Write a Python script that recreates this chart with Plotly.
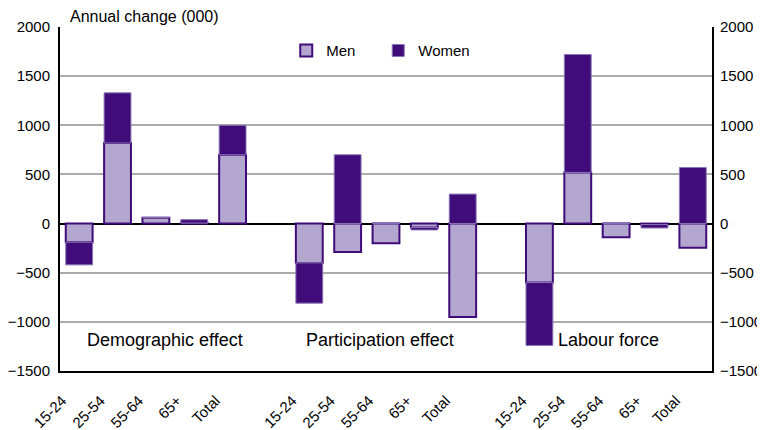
import plotly.graph_objects as go

groups = ["Demographic effect", "Participation effect", "Labour force"]
ages = ["15-24", "25-54", "55-64", "65+", "Total"]

men = [
    [-190, 820, 60, 5, 700],
    [-400, -290, -200, -40, -950],
    [-600, 520, -140, -10, -245],
]
women = [
    [-230, 510, 5, 35, 300],
    [-410, 700, 10, -25, 300],
    [-640, 1200, 10, -35, 570],
]

y_ticks = [-1500, -1000, -500, 0, 500, 1000, 1500, 2000]

MEN_FILL = "#B4A7CF"
DARK = "#3F0C79"
FONT = "Liberation Sans, Arial, sans-serif"

slot = len(ages) + 1
xs, tv, tt = [], [], []
for g in range(len(groups)):
    for i, a in enumerate(ages):
        xs.append(g * slot + i)
        tv.append(g * slot + i)
        tt.append(a)
xm = [v for row in men for v in row]
xw = [v for row in women for v in row]

fig = go.Figure()
fig.add_trace(go.Bar(x=xs, y=xm, name="Men", marker=dict(color=MEN_FILL, line=dict(color=DARK, width=2))))
fig.add_trace(go.Bar(x=xs, y=xw, name="Women", marker=dict(color=DARK, line=dict(color="#8B76B5", width=1))))
# empty trace so the right-hand axis is drawn
fig.add_trace(go.Scatter(x=[None], y=[None], yaxis="y2", showlegend=False, hoverinfo="skip"))

fig.update_layout(
    width=765, height=430,
    margin=dict(l=52, r=61, t=19, b=67),
    barmode="relative", bargap=0.3,
    plot_bgcolor="white", paper_bgcolor="white",
    font=dict(family=FONT, size=15, color="black"),
    showlegend=True,
    legend=dict(orientation="h", x=0.347, y=0.979, xanchor="left", yanchor="top",
                font=dict(size=15), entrywidth=47, entrywidthmode="pixels",
                bgcolor="rgba(0,0,0,0)", traceorder="normal"),
    xaxis=dict(range=[-0.5, len(groups) * slot - 1.5], tickvals=tv, ticktext=tt,
               tickangle=-45, showgrid=False, showline=True, linecolor="black",
               linewidth=2, ticks="", tickfont=dict(size=15), zeroline=False,
               automargin=False, ticklabelshift=-17, ticklabelstandoff=13),
    yaxis=dict(range=[-1500, 2000], tickvals=y_ticks, showgrid=True,
               gridcolor="#ABABAB", gridwidth=2, zeroline=True, zerolinecolor="black",
               zerolinewidth=2, showline=True, linecolor="black", linewidth=2,
               ticks="", tickfont=dict(size=15), automargin=False,
               ticklabelstandoff=5),
    yaxis2=dict(range=[-1500, 2000], tickvals=y_ticks, overlaying="y", side="right",
                showgrid=False, zeroline=False, showline=True, linecolor="black",
                linewidth=2, ticks="", tickfont=dict(size=15), automargin=False,
                ticklabelstandoff=3),
)

fig.add_annotation(text="Annual change (000)", xref="paper", yref="paper", x=0.012, y=1.0,
                   xanchor="left", yanchor="bottom", showarrow=False, font=dict(size=16))
label_x = [2.24, 7.85, 13.8]
for g, lx in zip(groups, label_x):
    fig.add_annotation(text=g, x=lx, y=-1180, xref="x", yref="y", showarrow=False,
                       font=dict(size=18))

fig.write_html("out.html")
